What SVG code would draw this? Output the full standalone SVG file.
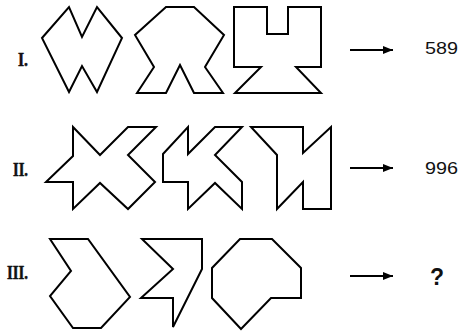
<svg xmlns="http://www.w3.org/2000/svg" width="460" height="332" viewBox="0 0 460 332">
<style>
.s{fill:none;stroke:#000;stroke-width:2;stroke-linejoin:miter}
.lab{font-family:"Liberation Serif",serif;font-weight:bold;font-size:18px;fill:#111;stroke:#111;stroke-width:0.5}
.num{font-family:"Liberation Sans",Arial,sans-serif;font-size:16px;fill:#111}
.q{font-family:"Liberation Sans",Arial,sans-serif;font-size:23px;font-weight:bold;fill:#111}
.arr{stroke:#000;stroke-width:2}
</style>
<defs>
<marker id="ah" viewBox="0 0 10 8" refX="10" refY="4" markerWidth="10" markerHeight="8" markerUnits="userSpaceOnUse" orient="auto">
<path d="M0,0 L10,4 L0,8 Z" fill="#000"/>
</marker>
</defs>
<rect width="460" height="332" fill="#fff"/>
<g id="labels">
<text class="lab" x="18" y="66" textLength="10" lengthAdjust="spacingAndGlyphs">I.</text>
<text class="lab" x="13" y="176" textLength="15" lengthAdjust="spacingAndGlyphs">II.</text>
<text class="lab" x="7" y="279" textLength="21" lengthAdjust="spacingAndGlyphs">III.</text>
</g>
<g id="row1">
<g id="r1s1"><path class="s" d="M42,38 L69,7 L82,37 L97,7 L122,38 L97,92 L82,66 L69,92 Z"/></g>
<g id="r1s2"><path class="s" d="M166,7 L194,7 L224,35 L205,67 L223,93 L194,93 L180,65 L166,93 L137,93 L154,67 L135,35 Z"/></g>
<g id="r1s3"><path class="s" d="M234,7 L267,7 L267,34 L288,34 L288,7 L321,7 L321,67 L296,67 L321,93 L235,93 L261,67 L234,67 Z"/></g>
<g id="r1res"><text class="num" x="425" y="54" textLength="33" lengthAdjust="spacingAndGlyphs">589</text></g>
</g>
<g id="row2">
<g id="r2s1"><path class="s" d="M73,127 L100,155 L128,127 L156,127 L128,155 L155,182 L128,209 L100,183 L73,209 L73,182 L46,182 L73,156 Z"/></g>
<g id="r2s2"><path class="s" d="M163,154 L188,127 L188,154 L215,127 L242,127 L215,155 L242,182 L242,209 L215,183 L188,209 L188,182 L163,182 Z"/></g>
<g id="r2s3"><path class="s" d="M251,127 L303,127 L303,153 L331,127 L331,209 L303,209 L303,182 L277,209 L277,155 Z"/></g>
<g id="r2res"><text class="num" x="425" y="174" textLength="33" lengthAdjust="spacingAndGlyphs">996</text></g>
</g>
<g id="row3">
<g id="r3s1"><path class="s" d="M50,239 L88,239 L130,297 L101,328 L73,328 L50,296 L71,271 Z"/></g>
<g id="r3s2"><path class="s" d="M142,239 L202,239 L202,269 L173,327 L173,298 L141,298 L173,269 Z"/></g>
<g id="r3s3"><path class="s" d="M240,239 L272,239 L301,268 L301,298 L271,298 L241,329 L212,298 L212,268 Z"/></g>
<g id="r3res"><text class="q" x="437" y="285" text-anchor="middle">?</text></g>
</g>
<g id="connectors">
<line class="arr" x1="350" y1="50" x2="393" y2="50" marker-end="url(#ah)"/>
<line class="arr" x1="350" y1="168" x2="393" y2="168" marker-end="url(#ah)"/>
<line class="arr" x1="350" y1="276" x2="393" y2="276" marker-end="url(#ah)"/>
</g>
</svg>
